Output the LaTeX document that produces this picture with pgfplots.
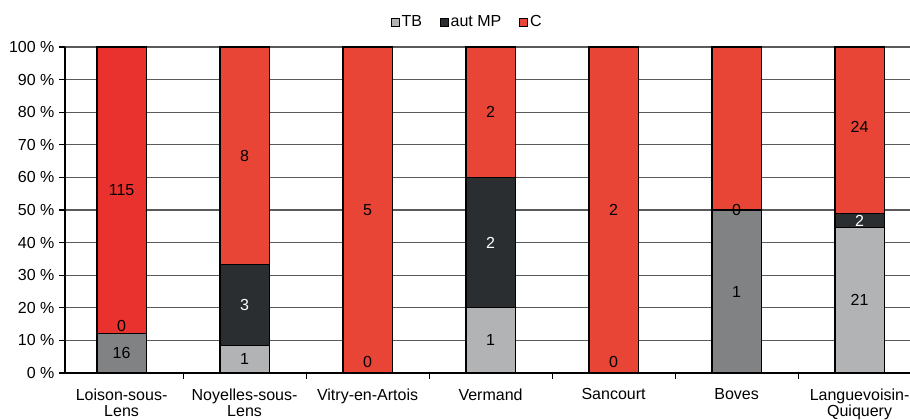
\documentclass[border=0pt]{standalone}
\usepackage{pgfplots}
\pgfplotsset{compat=1.18}
\usepackage{pgfplotstable}
\usepackage{fontspec}
\setmainfont{Liberation Sans}
\newcommand\cf{\fontsize{16}{16}\selectfont}
\definecolor{cTB}{RGB}{177,179,180}
\definecolor{cTBd}{RGB}{128,130,131}
\definecolor{cAut}{RGB}{43,46,48}
\definecolor{cC}{RGB}{233,69,55}
\definecolor{cCb}{RGB}{233,50,46}
\definecolor{cGrid}{RGB}{90,90,90}

\pgfplotstableread{
x TB TBd aut C Cb
0 0 12.21 0 0 87.79
1 8.33 0 25 66.67 0
2 0 0 0 100 0
3 20 0 40 40 0
4 0 0 0 100 0
5 0 50 0 50 0
6 44.68 0 4.26 51.06 0
}\pct

\pgfplotstableread{
x y l
0 6.1 16
0 14.5 0
0 56 115
1 4.2 1
1 66.7 8
2 3.4 0
2 50 5
3 10 1
3 80 2
4 3.4 0
4 50 2
5 25 1
5 50 0
6 22.4 21
6 75.5 24
}\lblk

\pgfplotstableread{
x y l
1 20.8 3
3 40 2
6 46.8 2
}\lblw

\begin{document}
\begin{tikzpicture}
\useasboundingbox (0,0) rectangle (910pt,420pt);
\pgfplotsset{common/.style={
  scale only axis, width=845pt, height=326pt,
  at={(65pt,47pt)}, anchor=south west,
  xmin=-0.46, xmax=6.41, ymin=0, ymax=100,
}}
\begin{axis}[common,
  ybar stacked, bar width=0.4,
  axis lines=left, axis line style={black, line width=1.2pt, -},
  ytick={0,10,...,100},
  yticklabel={\pgfmathprintnumber[assume math mode=true]{\tick} \%},
  yticklabel style={font=\cf, xshift=-1pt},
  ymajorgrids, major grid style={cGrid, line width=1.1pt},
  y tick style={black, line width=1.1pt}, tick align=outside, major tick length=6pt,
  xtick={0,...,6},
  xticklabels={{Loison-sous-\\Lens},{Noyelles-sous-\\Lens},{Vitry-en-Artois},{Vermand},{Sancourt},{Boves},{Languevoisin-\\Quiquery}},
  xticklabel style={font=\cf, align=center, yshift=-6pt},
  x tick style={draw=none},
  extra x ticks={0.5,1.5,...,5.5}, extra x tick labels={},
  extra x tick style={grid=none, x tick style={black, line width=1.1pt, draw=black}, major tick length=6pt},
  legend style={draw=none, fill=none, at={(0.476,1.077)}, anchor=center, font=\cf, legend columns=-1,
    /tikz/every even column/.append style={column sep=16pt}},
  legend image code/.code={\draw[#1, draw=black, line width=0.7pt] (0pt,-4pt) rectangle (8pt,4pt);},
]
\addplot[fill=cTB, draw=black, line width=1.1pt] table[x=x, y=TB]{\pct};
\addlegendentry{TB}
\addplot[fill=cTBd, draw=black, line width=1.1pt, forget plot] table[x=x, y=TBd]{\pct};
\addplot[fill=cAut, draw=black, line width=1.1pt] table[x=x, y=aut]{\pct};
\addlegendentry{aut MP}
\addplot[fill=cC, draw=black, line width=1.1pt] table[x=x, y=C]{\pct};
\addlegendentry{C}
\addplot[fill=cCb, draw=black, line width=1.1pt, forget plot] table[x=x, y=Cb]{\pct};
\end{axis}
\begin{axis}[common, hide axis]
\addplot[draw=none, mark=none, nodes near coords, point meta=explicit symbolic,
  every node near coord/.append style={anchor=center, font=\cf, text=black, inner sep=0pt}]
  table[x=x, y=y, meta=l]{\lblk};
\addplot[draw=none, mark=none, nodes near coords, point meta=explicit symbolic,
  every node near coord/.append style={anchor=center, font=\cf, text=white, inner sep=0pt}]
  table[x=x, y=y, meta=l]{\lblw};
\end{axis}
\end{tikzpicture}
\end{document}
